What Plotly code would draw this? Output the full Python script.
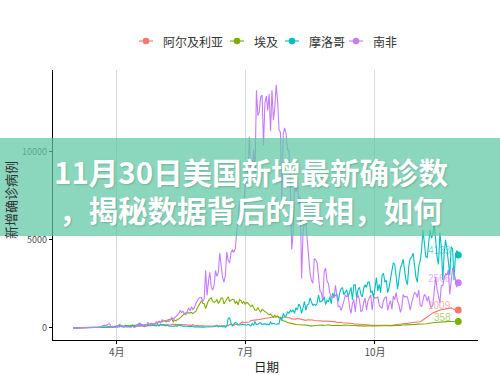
import pandas as pd
import plotly.graph_objects as go

# ---------------- data (daily new cases, 2020-03-01 .. 2020-11-29) ----------------
start_date = "2020-03-01"

algeria = [
    # Mar
    0, 1, 2, 0, 12, 0, 3, 0, 0, 0, 3, 4, 0, 6, 8, 6, 6, 0, 33, 12, 43, 38, 29, 34, 31, 65, 42, 55, 57, 73, 132,
    # Apr
    131, 139, 185, 139, 80, 69, 103, 45, 104, 94, 95, 64, 89, 87, 69, 90, 108, 116, 95, 89, 93, 99, 108, 120, 126, 135, 123, 108, 144, 199,
    # May
    148, 179, 159, 190, 185, 174, 186, 189, 165, 198, 192, 168, 168, 186, 192, 185, 184, 168, 176, 176, 165, 140, 176, 120, 190, 115, 127, 147, 113, 126, 127,
    # Jun
    119, 113, 107, 111, 104, 112, 104, 108, 106, 104, 102, 98, 117, 112, 108, 116, 119, 116, 119, 197, 187, 140, 148, 202, 186, 171, 222, 305, 336, 305,
    # Jul
    305, 316, 330, 330, 413, 434, 423, 462, 453, 458, 475, 494, 520, 532, 558, 570, 590, 601, 604, 605, 616, 620, 614, 675, 600, 602, 609, 619, 618, 601, 582,
    # Aug
    571, 562, 500, 498, 492, 495, 538, 521, 514, 501, 476, 473, 424, 460, 463, 460, 433, 445, 414, 405, 392, 398, 396, 383, 380, 392, 379, 361, 387, 370, 367,
    # Sep
    364, 359, 341, 301, 314, 295, 311, 293, 290, 300, 276, 256, 260, 257, 249, 231, 230, 227, 217, 213, 201, 204, 211, 197, 179, 174, 145, 149, 149, 151,
    # Oct
    153, 148, 136, 135, 134, 138, 139, 144, 138, 140, 146, 126, 143, 166, 170, 199, 209, 204, 202, 230, 233, 251, 262, 241, 274, 280, 287, 301, 305, 309, 320,
    # Nov
    330, 350, 390, 450, 530, 600, 640, 710, 750, 800, 850, 880, 920, 960, 1000, 1010, 1030, 1040, 1050, 1080, 1090, 1110, 1100, 1133, 1080, 1050, 1030, 1020, 1009,
]

egypt = [
    0, 1, 0, 0, 1, 12, 0, 33, 0, 4, 0, 13, 13, 16, 17, 40, 30, 14, 46, 29, 9, 33, 39, 36, 54, 54, 40, 39, 33, 47, 54,
    46, 69, 86, 85, 103, 79, 149, 93, 139, 94, 145, 125, 126, 125, 160, 155, 171, 188, 189, 112, 185, 189, 167, 201, 260, 250, 248, 210, 267, 269,
    358, 320, 350, 400, 400, 340, 380, 480, 500, 500, 340, 450, 390, 490, 500, 600, 650, 720, 820, 850, 845, 860, 850, 880, 800, 900, 910, 1110, 1230, 1390, 1536,
    1400, 1370, 1100, 1400, 1550, 1650, 1700, 1500, 1450, 1500, 1600, 1400, 1500, 1700, 1700, 1360, 1500, 1600, 1770, 1500, 1570, 1620, 1600, 1400, 1500, 1300, 1600, 1550, 1400, 1500,
    1340, 1450, 1400, 1300, 1200, 1300, 1150, 1000, 1000, 1150, 1000, 900, 1050, 1000, 950, 880, 850, 750, 790, 700, 600, 720, 620, 650, 560, 550, 420, 400, 400, 360, 300,
    290, 270, 250, 230, 210, 190, 180, 170, 160, 170, 160, 178, 160, 150, 140, 110, 100, 120, 130, 160, 140, 150, 150, 160, 140, 135, 155, 160, 170, 135, 130,
    130, 150, 160, 150, 140, 130, 120, 130, 160, 150, 140, 170, 120, 140, 130, 140, 130, 120, 110, 120, 130, 120, 110, 100, 120, 110, 120, 130, 100, 110,
    110, 120, 110, 120, 110, 120, 120, 110, 120, 120, 130, 120, 130, 120, 140, 130, 140, 150, 130, 160, 160, 160, 160, 180, 160, 180, 190, 180, 190, 200, 210,
    210, 200, 210, 210, 200, 220, 230, 260, 250, 280, 290, 300, 310, 320, 320, 330, 340, 340, 350, 350, 360, 370, 370, 360, 360, 370, 370, 360, 358,
]

morocco = [
    0, 1, 0, 0, 0, 0, 0, 0, 0, 0, 1, 2, 2, 1, 10, 9, 16, 9, 21, 11, 20, 29, 28, 27, 55, 50, 56, 70, 43, 61, 75,
    37, 84, 163, 83, 71, 45, 87, 140, 70, 99, 94, 172, 48, 98, 139, 138, 281, 135, 179, 98, 69, 137, 147, 149, 158, 149, 166, 120, 110, 157,
    102, 192, 166, 137, 111, 104, 169, 95, 92, 82, 98, 100, 124, 91, 178, 120, 135, 85, 103, 84, 77, 81, 91, 63, 48, 47, 55, 52, 21, 51, 32,
    34, 43, 50, 47, 34, 56, 43, 63, 81, 131, 158, 53, 89, 102, 52, 84, 36, 107, 539, 563, 260, 118, 210, 304, 268, 170, 161, 173, 209, 175,
    193, 152, 212, 160, 107, 247, 145, 358, 179, 200, 248, 295, 189, 204, 238, 184, 208, 170, 325, 218, 263, 218, 202, 233, 226, 611, 433, 826, 653, 659, 900,
    833, 1005, 909, 1021, 826, 1144, 1018, 1345, 1230, 826, 1132, 1499, 1000, 1306, 1344, 1700, 1472, 1276, 1346, 1261, 1402, 1870, 1472, 1496, 1555, 1776, 1320, 1560, 1472, 1776, 1370,
    1980, 1770, 1850, 1920, 1500, 2000, 2230, 2270, 1880, 2040, 2150, 1760, 2100, 2300, 1600, 2450, 2450, 1700, 2200, 2300, 1900, 1760, 2250, 2450, 2300, 2600, 2600, 2000, 2100, 1700,
    2280, 2850, 2100, 2470, 2000, 2990, 3100, 2600, 2700, 2000, 2300, 2900, 3250, 3700, 3600, 2900, 2200, 2800, 3400, 3600, 3900, 3250, 2700, 2450, 3500, 3950, 4000, 4250, 3500, 2900, 2600,
    3500, 3800, 4400, 5570, 4900, 4050, 4000, 5000, 5570, 5100, 5300, 6000, 4700, 4000, 3600, 5400, 4600, 2700, 4200, 5000, 4500, 3600, 3000, 4600, 4500, 2700, 4100, 4400, 4133,
]

south_africa = [
    0, 0, 0, 0, 1, 0, 0, 1, 5, 0, 6, 3, 8, 14, 13, 11, 31, 30, 34, 52, 38, 128, 128, 152, 155, 218, 243, 17, 93, 46, 27,
    27, 82, 43, 123, 119, 63, 69, 80, 82, 51, 25, 89, 48, 28, 145, 200, 99, 251, 143, 157, 178, 124, 318, 188, 197, 199, 250, 180, 354, 297,
    385, 275, 447, 424, 401, 405, 446, 356, 424, 595, 484, 577, 613, 704, 804, 1000, 863, 950, 767, 740, 961, 1134, 964, 1200, 1032, 1148, 1373, 1537, 1674, 1713, 1716,
    1500, 1674, 3267, 1837, 2642, 3147, 2312, 2150, 2430, 3267, 2928, 3147, 4250, 3400, 2850, 2604, 3000, 4302, 3822, 3700, 4302, 4430, 4288, 4518, 5570, 6215, 7210, 5924, 6334, 6945,
    8124, 8728, 9063, 10853, 8773, 8971, 10134, 8810, 13500, 12058, 12270, 13120, 13230, 10371, 12757, 13172, 12348, 13285, 11176, 13500, 11800, 12500, 13800, 12904, 11250, 11107, 7232, 11000, 11362, 11046, 10107,
    10107, 8195, 4456, 5377, 8559, 7712, 8307, 7000, 7483, 2810, 5385, 6166, 5938, 4800, 3692, 3093, 2700, 2541, 3916, 3880, 3707, 2920, 2098, 2000, 1567, 3204, 3390, 2689, 2505, 1986, 1750,
    1800, 1700, 2420, 1915, 1200, 1235, 1001, 1218, 1528, 1859, 1775, 1850, 1149, 825, 1373, 1616, 900, 1676, 1870, 1587, 936, 970, 1442, 1689, 1000, 1518, 1700, 1870, 1018, 1655,
    1717, 1696, 1752, 1302, 1168, 1134, 1543, 1724, 1757, 1000, 1337, 1550, 1050, 1800, 1600, 2000, 1500, 1300, 880, 1146, 1900, 1750, 1785, 1750, 1400, 1000, 1450, 1700, 2000, 1950, 1720,
    2150, 1300, 1200, 1600, 1900, 1800, 1500, 1800, 1300, 1150, 1300, 2100, 2900, 2200, 1750, 1400, 2400, 2400, 2800, 3100, 3000, 3300, 1900, 2700, 3400, 3100, 2800, 2300, 2566,
]

series_names = ["阿尔及利亚", "埃及", "摩洛哥", "南非"]
series_values = [algeria, egypt, morocco, south_africa]
colors = ["#F8766D", "#7CAE00", "#00BFC4", "#C77CFF"]
label_colors = ["rgba(248,118,109,0.6)", "rgba(124,174,0,0.6)", "rgba(0,191,196,0.6)", "rgba(199,124,255,0.6)"]

tick_dates = ["2020-04-01", "2020-07-01", "2020-10-01"]
tick_labels = ["4月", "7月", "10月"]
y_ticks = [0, 5000, 10000]
y_tick_labels = ["0", "5000", "10000"]

x_title = "日期"
y_title = "新增确诊病例"
banner_line1 = "11月30日美国新增最新确诊数"
banner_line2 = "，揭秘数据背后的真相，如何"

# ---------------- figure ----------------
FONT = "Noto Sans CJK SC, Noto Sans, sans-serif"
fig = go.Figure()

for name, vals, col in zip(series_names, series_values, colors):
    dates = pd.date_range(start_date, periods=len(vals), freq="D")
    fig.add_trace(go.Scatter(
        x=dates, y=vals, mode="lines", name=name,
        showlegend=False, line=dict(color=col, width=1.1), hoverinfo="skip",
    ))

for name, vals, col, lcol in zip(series_names, series_values, colors, label_colors):
    dates = pd.date_range(start_date, periods=len(vals), freq="D")
    fig.add_trace(go.Scatter(
        x=[dates[-1]], y=[vals[-1]], mode="markers", name=name,
        showlegend=False, marker=dict(color=col, size=7), hoverinfo="skip",
    ))
    fig.add_annotation(
        x=dates[-1], y=vals[-1], xref="x", yref="y", text=str(vals[-1]),
        showarrow=False, xanchor="right", yanchor="middle", xshift=-5, yshift=4.5,
        font=dict(family="Liberation Sans, Arial, sans-serif", size=10, color=lcol),
    )

L, R, T, B = 53, 22, 70, 35
W, H = 500, 375
pw, ph = W - L - R, H - T - B

def px_x(p):
    return (p - L) / pw

def px_y(p):
    return (H - B - p) / ph

# manual legend (ggplot-like compact keys)
legend_marker_px = [146, 237, 292, 356]
legend_y = 41
for name, col, mx in zip(series_names, colors, legend_marker_px):
    fig.add_shape(type="line", xref="paper", yref="paper",
                  x0=px_x(mx - 7), x1=px_x(mx + 7), y0=px_y(legend_y), y1=px_y(legend_y),
                  line=dict(color=col, width=1.1))
    fig.add_shape(type="circle", xref="paper", yref="paper",
                  xsizemode="pixel", ysizemode="pixel",
                  xanchor=px_x(mx), yanchor=px_y(legend_y),
                  x0=-3.3, x1=3.3, y0=-3.3, y1=3.3,
                  fillcolor=col, line=dict(width=0))
    fig.add_annotation(x=px_x(mx + 15), y=px_y(legend_y), xref="paper", yref="paper",
                       text=name, showarrow=False, xanchor="left", yanchor="middle",
                       font=dict(family=FONT, size=12, color="#333333"))

# banner
fig.add_shape(type="rect", xref="paper", yref="paper",
              x0=px_x(0), x1=px_x(W), y0=px_y(236), y1=px_y(138),
              fillcolor="rgba(94,200,165,0.72)", line=dict(width=0), layer="above")

for txt, yy in [(banner_line1, 171), (banner_line2, 208.5)]:
    fig.add_annotation(
        x=px_x(251), y=px_y(yy), xref="paper", yref="paper", text=txt,
        showarrow=False, xanchor="center", yanchor="middle",
        font=dict(family="Noto Sans CJK SC", size=29.5, color="white", weight="bold",
                  shadow="1px 1px 2px rgba(0,0,0,0.18)"),
    )

# axis titles
fig.add_annotation(x=px_x(266), y=px_y(366), xref="paper", yref="paper", text=x_title,
                   showarrow=False, xanchor="center", yanchor="middle",
                   font=dict(family=FONT, size=12.5, color="#222222"))
fig.add_annotation(x=px_x(10), y=px_y(200), xref="paper", yref="paper", text=y_title,
                   showarrow=False, xanchor="center", yanchor="middle", textangle=-90,
                   font=dict(family=FONT, size=13, color="#333333"))

fig.update_layout(
    width=W, height=H,
    margin=dict(l=L, r=R, t=T, b=B, autoexpand=False),
    paper_bgcolor="white", plot_bgcolor="white",
    font=dict(family=FONT, color="#333333"),
    showlegend=False,
    xaxis=dict(
        type="date", range=["2020-02-15 20:00", "2020-12-13"],
        tickvals=tick_dates, ticktext=tick_labels,
        showgrid=True, gridcolor="#DADADA", gridwidth=1,
        showline=True, linecolor="black", linewidth=1.3,
        ticks="outside", ticklen=3, tickcolor="black", tickwidth=1,
        tickfont=dict(family=FONT, size=10, color="#4D4D4D"),
        zeroline=False, automargin=False,
    ),
    yaxis=dict(
        range=[-690, 14650],
        tickvals=y_ticks, ticktext=y_tick_labels,
        showgrid=False,
        showline=True, linecolor="black", linewidth=1.3,
        ticks="outside", ticklen=3, tickcolor="black", tickwidth=1,
        tickfont=dict(family=FONT, size=9, color="#4D4D4D"),
        zeroline=False, automargin=False,
    ),
)

fig.write_html("out.html",
               config={"displayModeBar": False},
               post_script="document.body.style.margin='0';document.body.style.overflow='hidden';")
